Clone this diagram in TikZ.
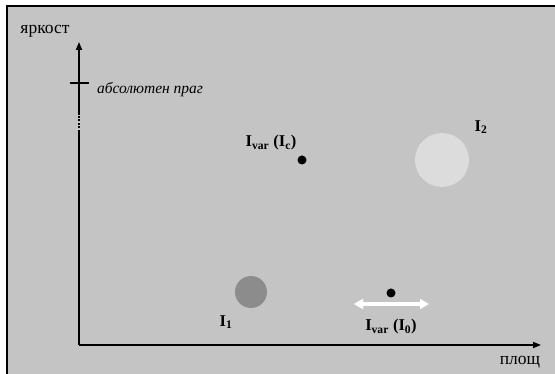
\documentclass[tikz,border=0pt]{standalone}
\usepackage{fontspec}
\setmainfont{Liberation Serif}
\usetikzlibrary{arrows.meta}
\definecolor{bg}{HTML}{C4C4C4}
\definecolor{lightc}{HTML}{DCDCDC}
\definecolor{darkc}{HTML}{8C8C8C}
\tikzset{
  axis/.style={line width=1.6pt, -{Triangle[length=8pt,width=6pt]}},
  lbl/.style={font=\fontsize{16.5}{16.5}\selectfont\bfseries, inner sep=0pt},
  axlbl/.style={font=\fontsize{17.5}{17.5}\selectfont, inner sep=0pt},
  dotc/.style={circle, fill=black, inner sep=0pt, minimum size=9pt},
}
\begin{document}
\begin{tikzpicture}[x=1pt,y=-1pt]
\useasboundingbox (0,0) rectangle (555,374);
\fill[bg] (7,6) rectangle (555,374);
\draw[line width=1.5pt] (7,374) -- (7,6) -- (555,6);
% axes
\coordinate (O) at (79,345);
\coordinate (Y1) at (79,132);
\coordinate (Y2) at (79,115);
\coordinate (Ytop) at (79,42);
\coordinate (Xend) at (541,345);
\draw[line width=1.6pt] (O) -- (Y1);
\draw[line width=1.6pt, dash pattern=on 2pt off 1.5pt] (Y1) -- (Y2);
\draw[axis] (Y2) -- (Ytop);
\draw[axis] (O) -- (Xend);
\coordinate (T1) at (70,83);
\coordinate (T2) at (89,83);
\draw[line width=1.6pt] (T1) -- (T2);
\node[axlbl] (yl) at (45,31) {яркост};
\node[axlbl] (xl) at (520,362) {площ};
\node[font=\fontsize{15.5}{15.5}\selectfont\itshape, inner sep=0pt, anchor=west] (thr) at (97,90) {абсолютен праг};
% circles
\node[circle, fill=lightc, minimum size=54pt, inner sep=0pt] (c2) at (442,160) {};
\node[circle, fill=darkc, minimum size=32pt, inner sep=0pt] (c1) at (251,292) {};
\node[dotc] (dc) at (302,160) {};
\node[dotc] (d0) at (391,293) {};
\coordinate (A1) at (354,304);
\coordinate (A2) at (429,304);
\draw[white, line width=3.5pt, {Triangle[length=9pt,width=10pt]}-{Triangle[length=9pt,width=10pt]}] (A1) -- (A2);
% labels
\node[lbl] (l2) at (481,127) {I\textsubscript{2}};
\node[lbl] (l1) at (226,322) {I\textsubscript{1}};
\node[lbl] (lc) at (271,143) {I\textsubscript{var} (I\textsubscript{c})};
\node[lbl] (l0) at (391,327) {I\textsubscript{var} (I\textsubscript{0})};
\end{tikzpicture}
\end{document}
